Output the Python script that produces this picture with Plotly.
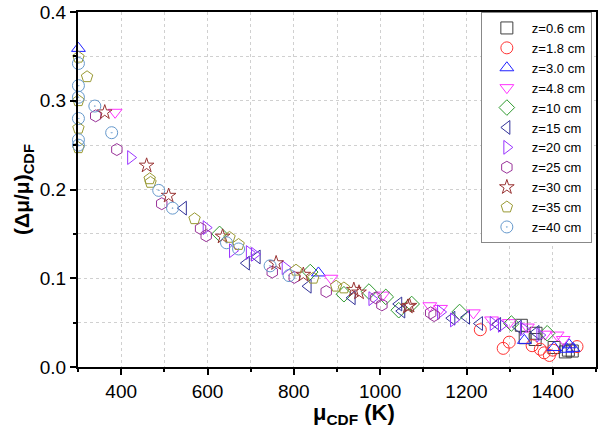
import plotly.graph_objects as go

# z=0.6 cm
x_06 = [1327, 1336, 1359, 1361, 1403, 1429, 1436, 1445]
y_06 = [0.047, 0.033, 0.031, 0.038, 0.022, 0.017, 0.019, 0.018]
# z=1.8 cm
x_18 = [1232, 1285, 1299, 1352, 1371, 1380, 1392, 1400, 1456]
y_18 = [0.042, 0.021, 0.028, 0.024, 0.020, 0.016, 0.013, 0.019, 0.023]
# z=3.0 cm
x_30 = [301, 857, 1334, 1403, 1433, 1438, 1447]
y_30 = [0.359, 0.106, 0.030, 0.022, 0.020, 0.025, 0.021]
# z=4.8 cm
x_48 = [386, 886, 1006, 1115, 1140, 1216, 1258, 1299, 1341, 1382, 1410, 1424]
y_48 = [0.287, 0.100, 0.081, 0.069, 0.066, 0.061, 0.053, 0.050, 0.045, 0.037, 0.036, 0.031]
# z=10 cm
x_10 = [628, 838, 916, 974, 1013, 1043, 1073, 1184, 1304, 1387]
y_10 = [0.150, 0.107, 0.082, 0.085, 0.079, 0.064, 0.071, 0.062, 0.049, 0.038]
# z=15 cm
x_15 = [544, 690, 715, 833, 935, 1043, 1050, 1166, 1200, 1230, 1272, 1320, 1361]
y_15 = [0.179, 0.117, 0.124, 0.091, 0.078, 0.071, 0.063, 0.055, 0.056, 0.049, 0.048, 0.045, 0.039]
# z=20 cm
x_20 = [422, 597, 658, 697, 709, 780, 981, 1140, 1170, 1262, 1281, 1332, 1370]
y_20 = [0.236, 0.157, 0.131, 0.129, 0.127, 0.112, 0.077, 0.062, 0.053, 0.049, 0.047, 0.043, 0.036]
# z=25 cm
x_25 = [341, 390, 494, 584, 597, 750, 801, 875, 990, 1004, 1117, 1125]
y_25 = [0.283, 0.245, 0.184, 0.156, 0.148, 0.107, 0.101, 0.085, 0.078, 0.070, 0.061, 0.058]
# z=30 cm
x_3c = [362, 459, 510, 635, 759, 822, 939, 951, 1064, 1068]
y_3c = [0.287, 0.227, 0.193, 0.147, 0.117, 0.104, 0.087, 0.084, 0.068, 0.069]
# z=35 cm
x_35 = [301, 321, 301, 301, 301, 466, 468, 570, 651, 672, 805, 845, 898, 916]
y_35 = [0.349, 0.327, 0.300, 0.269, 0.247, 0.212, 0.208, 0.167, 0.146, 0.138, 0.109, 0.100, 0.091, 0.089]
# z=40 cm
x_40 = [301, 301, 301, 339, 301, 378, 301, 301, 487, 519, 644, 672, 745, 789]
y_40 = [0.342, 0.317, 0.304, 0.294, 0.280, 0.264, 0.256, 0.250, 0.199, 0.179, 0.140, 0.133, 0.114, 0.103]

names = ['z=0.6 cm', 'z=1.8 cm', 'z=3.0 cm', 'z=4.8 cm', 'z=10 cm', 'z=15 cm',
         'z=20 cm', 'z=25 cm', 'z=30 cm', 'z=35 cm', 'z=40 cm']
xs = [x_06, x_18, x_30, x_48, x_10, x_15, x_20, x_25, x_3c, x_35, x_40]
ys = [y_06, y_18, y_30, y_48, y_10, y_15, y_20, y_25, y_3c, y_35, y_40]
symbols = ['square-open', 'circle-open', 'triangle-up-open', 'triangle-down-open',
           'diamond-open', 'triangle-left-open', 'triangle-right-open', 'hexagon-open',
           'star-open', 'pentagon-open', 'circle-open-dot']
colors = ['#404040', '#ff3333', '#2020ff', '#ff33ff', '#2e992e', '#333399',
          '#9933ff', '#993399', '#993333', '#999933', '#6699cc']
sizes = [12, 12, 12, 12, 12, 12, 12, 12, 11, 12, 12]

fig = go.Figure()
for n, x, y, s, c, sz in zip(names, xs, ys, symbols, colors, sizes):
    fig.add_trace(go.Scatter(
        x=x, y=y, mode='markers', name=n, cliponaxis=False,
        marker=dict(symbol=s, size=sz, color=c, line=dict(color=c, width=1))
    ))

axis_common = dict(
    showline=True, linecolor='black', linewidth=2, mirror=True,
    ticks='outside', ticklen=6, tickwidth=1.5, tickcolor='black',
    showgrid=True, gridcolor='#d0d0d0', griddash='dot', gridwidth=1,
    zeroline=False, tickfont=dict(size=19, color='black'),
    ticklabeloverflow='allow',
)

fig.update_layout(
    width=600, height=427,
    margin=dict(l=78, r=2, t=7, b=60),
    plot_bgcolor='white', paper_bgcolor='white',
    font=dict(family='Liberation Sans, Arial, sans-serif', color='black'),
    xaxis=dict(
        range=[300, 1500], tick0=0, dtick=200,
        minor=dict(dtick=100, ticks='outside', ticklen=3, tickcolor='black',
                   showgrid=True, gridcolor='#d0d0d0', griddash='dot'),
        **axis_common
    ),
    yaxis=dict(
        range=[0, 0.4], tick0=0, dtick=0.1, tickformat='.1f',
        minor=dict(dtick=0.05, ticks='outside', ticklen=3, tickcolor='black',
                   showgrid=True, gridcolor='#d0d0d0', griddash='dot'),
        title=dict(text='<b>(Δμ/μ)<sub>CDF</sub></b>', font=dict(size=21), standoff=4),
        **axis_common
    ),
    legend=dict(
        x=0.992, y=1.0, xanchor='right', yanchor='top',
        bgcolor='white', bordercolor='#888888', borderwidth=1,
        font=dict(size=13), tracegroupgap=0, itemwidth=40
    ),
    showlegend=True,
)

# x title sits a bit right of the plot centre in the original
fig.add_annotation(
    text='<b>μ<sub>CDF</sub> (K)</b>', xref='paper', yref='paper',
    x=0.533, y=-0.133, xanchor='center', yanchor='middle',
    showarrow=False, font=dict(size=22, color='black')
)

# page body has a default 8px margin; drop it so the figure sits at 0,0
fig.write_html("out.html", config={'displayModeBar': False},
               post_script="document.body.style.margin='0';")
